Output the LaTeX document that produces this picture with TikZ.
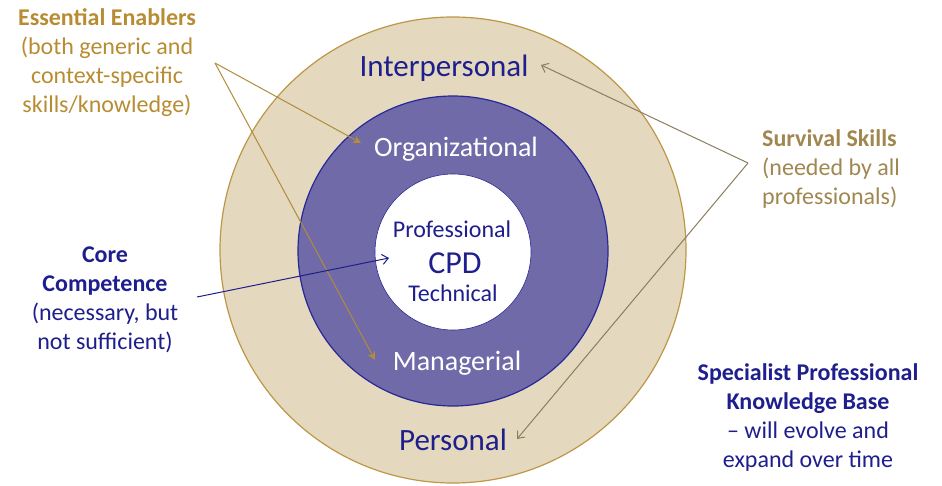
\documentclass[tikz,border=0pt]{standalone}
\usepackage{fontspec}
\setmainfont{Carlito}
\usetikzlibrary{arrows.meta}
\definecolor{beige}{RGB}{228,217,190}
\definecolor{beigeline}{RGB}{190,150,70}
\definecolor{purplefill}{RGB}{113,106,168}
\definecolor{purpleline}{RGB}{40,40,150}
\definecolor{navy}{RGB}{30,30,140}
\definecolor{goldtext}{RGB}{184,140,50}
\definecolor{survtext}{RGB}{160,135,80}
\definecolor{survline}{RGB}{140,125,95}
\definecolor{goldline}{RGB}{176,140,60}
\tikzset{
  sidelabel/.style={font=\fontsize{24}{29}\selectfont, align=center, inner sep=0pt},
  ringlabel/.style={inner sep=0pt},
  enabler/.style={draw=goldline, line width=1pt, -{Stealth[length=8pt,width=8pt]}},
  survival/.style={draw=survline, line width=1pt, -{Straight Barb[length=6pt,width=10pt]}},
  corearrow/.style={draw=navy, line width=1pt, -{Straight Barb[length=6pt,width=10pt]}},
}
\begin{document}
\begin{tikzpicture}[x=1pt,y=-1pt]
\useasboundingbox (0,0) rectangle (942,485);
% rings
\node[circle, minimum size=466pt, fill=beige, draw=beigeline, line width=1.2pt, inner sep=0pt] (outer) at (453,250) {};
\node[circle, minimum size=310pt, fill=purplefill, draw=purpleline, line width=1.2pt, inner sep=0pt] (mid) at (453,251) {};
\node[circle, minimum size=156pt, fill=white, draw=purpleline, line width=0.6pt, inner sep=0pt] (inner) at (453,252) {};
% ring labels
\node[ringlabel, text=navy, font=\fontsize{31}{36}\selectfont] (inter) at (444,68) {Interpersonal};
\node[ringlabel, text=navy, font=\fontsize{31}{36}\selectfont] (pers) at (453,440) {Personal};
\node[ringlabel, text=white, font=\fontsize{28}{33}\selectfont] (org) at (456,149) {Organizational};
\node[ringlabel, text=white, font=\fontsize{28}{33}\selectfont] (man) at (457,363) {Managerial};
\node[ringlabel, text=navy, font=\fontsize{24}{29}\selectfont] (prof) at (452,229) {Professional};
\node[ringlabel, text=navy, font=\fontsize{32}{36}\selectfont] (cpd) at (455,263) {CPD};
\node[ringlabel, text=navy, font=\fontsize{24}{29}\selectfont] (tech) at (453,293) {Technical};
% side labels
\node[sidelabel, text=goldtext] (enablers) at (107,63) {\textbf{Essential Enablers}\\(both generic and\\context-specific\\skills/knowledge)};
\node[sidelabel, text=navy] (core) at (105,300) {\textbf{Core}\\\textbf{Competence}\\(necessary, but\\not sufficient)};
\node[sidelabel, text=survtext, align=left, anchor=west] (surv) at (762,169) {\textbf{Survival Skills}\\(needed by all\\professionals)};
\node[sidelabel, text=navy] (spec) at (808,418) {\textbf{Specialist Professional}\\\textbf{Knowledge Base}\\-- will evolve and\\expand over time};
% connector points
\coordinate (ee) at (215,63);
\coordinate (ss) at (748,163);
\coordinate (cc) at (197,297);
\coordinate (orgtip) at (361,143);
\coordinate (mantip) at (375,360);
\coordinate (intertip) at (541,65);
\coordinate (perstip) at (517,439);
\coordinate (cpdtip) at (389,258);
% connectors
\draw[enabler] (ee) -- (orgtip);
\draw[enabler] (ee) -- (mantip);
\draw[survival] (ss) -- (intertip);
\draw[survival] (ss) -- (perstip);
\draw[corearrow] (cc) -- (cpdtip);
\end{tikzpicture}
\end{document}
